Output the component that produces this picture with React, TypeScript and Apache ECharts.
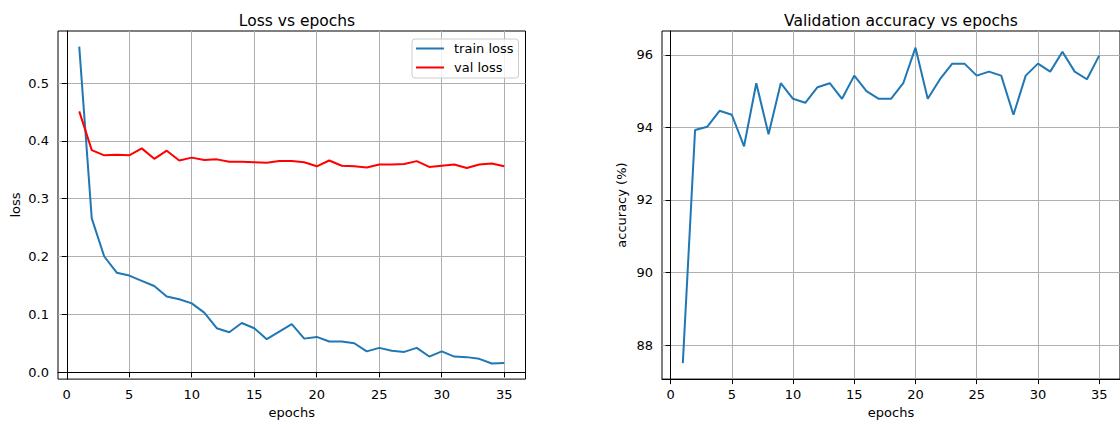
import React, { useEffect, useRef } from "react";
import * as echarts from "echarts";

const epochs = Array.from({ length: 35 }, (_, i) => i + 1);

const trainLoss = [
  0.563, 0.266, 0.2, 0.172, 0.167, 0.158, 0.149, 0.131, 0.126, 0.119, 0.103,
  0.076, 0.069, 0.085, 0.076, 0.057, 0.07, 0.083, 0.058, 0.061, 0.053, 0.053,
  0.05, 0.036, 0.042, 0.037, 0.035, 0.042, 0.027, 0.036, 0.027, 0.026, 0.023,
  0.015, 0.016,
];

const valLoss = [
  0.451, 0.384, 0.375, 0.376, 0.375, 0.387, 0.369, 0.383, 0.366, 0.371, 0.367,
  0.368, 0.364, 0.364, 0.363, 0.362, 0.365, 0.365, 0.363, 0.356, 0.366, 0.357,
  0.356, 0.354, 0.359, 0.359, 0.36, 0.365, 0.355, 0.357, 0.359, 0.353, 0.359,
  0.361, 0.356,
];

const valAcc = [
  87.5, 93.93, 94.02, 94.46, 94.35, 93.48, 95.22, 93.81, 95.22, 94.79, 94.68,
  95.11, 95.22, 94.79, 95.43, 95.0, 94.79, 94.79, 95.22, 96.2, 94.79, 95.33,
  95.76, 95.76, 95.43, 95.54, 95.43, 94.35, 95.43, 95.76, 95.54, 96.09, 95.54,
  95.33, 95.98,
];

const xTicks = [0, 5, 10, 15, 20, 25, 30, 35];
const lossTicks = [0, 0.1, 0.2, 0.3, 0.4, 0.5];
const accTicks = [88, 90, 92, 94, 96];

const FONT = "DejaVu Sans";

function xAxisOf(gridIndex: number) {
  return {
    type: "value",
    gridIndex,
    min: -0.7,
    max: 36.7,
    name: "epochs",
    nameLocation: "middle",
    nameGap: 26,
    nameTextStyle: { fontFamily: FONT, fontSize: 13, color: "#000" },
    axisLine: { show: true, lineStyle: { color: "#000", width: 1 } },
    axisTick: { show: true, length: 5, customValues: xTicks, lineStyle: { color: "#000", width: 1 } },
    axisLabel: {
      customValues: xTicks,
      margin: 9,
      fontFamily: FONT,
      fontSize: 13,
      color: "#000",
      formatter: (v: number) => String(Math.round(v)),
    },
    splitLine: { show: true, lineStyle: { color: "#b0b0b0", width: 1 } },
  };
}

function yAxisOf(gridIndex: number, name: string, min: number, max: number, ticks: number[], digits: number, gap: number) {
  return {
    type: "value",
    gridIndex,
    min,
    max,
    name,
    nameLocation: "middle",
    nameGap: gap,
    nameTextStyle: { fontFamily: FONT, fontSize: 13, color: "#000" },
    axisLine: { show: true, lineStyle: { color: "#000", width: 1 } },
    axisTick: { show: true, length: 5, customValues: ticks, lineStyle: { color: "#000", width: 1 } },
    axisLabel: {
      customValues: ticks,
      margin: 9,
      fontFamily: FONT,
      fontSize: 13,
      color: "#000",
      formatter: (v: number) => v.toFixed(digits),
    },
    splitLine: { show: true, lineStyle: { color: "#b0b0b0", width: 1 } },
  };
}

export default function App() {
  const ref = useRef<HTMLDivElement>(null);

  useEffect(() => {
    if (!ref.current) return;
    const chart = echarts.init(ref.current, null, { renderer: "svg" });
    chart.setOption({
      animation: false,
      backgroundColor: "#fff",
      title: [
        {
          text: "Loss vs epochs",
          left: 292,
          top: 8,
          textAlign: "center",
          textStyle: { fontFamily: FONT, fontSize: 15.5, fontWeight: "normal", color: "#000" },
        },
        {
          text: "Validation accuracy vs epochs",
          left: 896,
          top: 8,
          textAlign: "center",
          textStyle: { fontFamily: FONT, fontSize: 15.5, fontWeight: "normal", color: "#000" },
        },
      ],
      legend: {
        data: ["train loss", "val loss"],
        orient: "vertical",
        left: 412,
        top: 39,
        padding: [2, 5, 3, 4],
        itemWidth: 28,
        itemHeight: 2,
        itemGap: 4,
        icon: "rect",
        backgroundColor: "rgba(255,255,255,0.8)",
        borderColor: "#cccccc",
        borderWidth: 1,
        borderRadius: 3,
        textStyle: { fontFamily: FONT, fontSize: 13, color: "#000", lineHeight: 15, padding: [0, 0, 0, 5] },
      },
      grid: [
        { left: 58, top: 31, width: 467.5, height: 350, show: true, borderColor: "#000", borderWidth: 1, backgroundColor: "transparent" },
        { left: 662, top: 31, width: 468, height: 350, show: true, borderColor: "#000", borderWidth: 1, backgroundColor: "transparent" },
      ],
      xAxis: [xAxisOf(0), xAxisOf(1)],
      yAxis: [
        yAxisOf(0, "loss", -0.012, 0.59, lossTicks, 1, 36),
        yAxisOf(1, "accuracy (%)", 87.06, 96.66, accTicks, 0, 34),
      ],
      series: [
        {
          name: "train loss",
          type: "line",
          xAxisIndex: 0,
          yAxisIndex: 0,
          symbol: "none",
          showSymbol: false,
          data: epochs.map((e, i) => [e, trainLoss[i]]),
          itemStyle: { color: "#1f77b4" },
          lineStyle: { color: "#1f77b4", width: 2 },
        },
        {
          name: "val loss",
          type: "line",
          xAxisIndex: 0,
          yAxisIndex: 0,
          symbol: "none",
          showSymbol: false,
          data: epochs.map((e, i) => [e, valLoss[i]]),
          itemStyle: { color: "#ff0000" },
          lineStyle: { color: "#ff0000", width: 2 },
        },
        {
          name: "val accuracy",
          type: "line",
          xAxisIndex: 1,
          yAxisIndex: 1,
          symbol: "none",
          showSymbol: false,
          data: epochs.map((e, i) => [e, valAcc[i]]),
          itemStyle: { color: "#1f77b4" },
          lineStyle: { color: "#1f77b4", width: 2 },
        },
      ],
    });
    return () => chart.dispose();
  }, []);

  return (
    <div
      ref={ref}
      style={{ position: "fixed", left: 0, top: 0, width: 1120, height: 424, background: "#fff" }}
    />
  );
}
